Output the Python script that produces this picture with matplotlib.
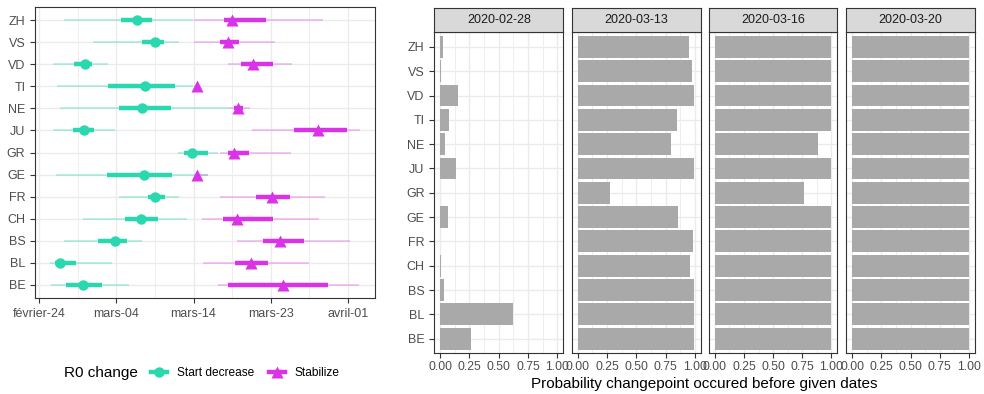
import numpy as np
import matplotlib
matplotlib.use("Agg")
import matplotlib.pyplot as plt
from matplotlib.lines import Line2D

plt.rcParams["font.family"] = ["Liberation Sans", "DejaVu Sans"]

TEAL, MAGENTA = "#29D8AE", "#DA32E6"
BAR = "#A9A9A9"
GRID = "#EBEBEB"
BORDER = "#333333"
TXT = "#4D4D4D"

# cantons, bottom to top
cantons = ["BE", "BL", "BS", "CH", "FR", "GE", "GR", "JU", "NE", "TI", "VD", "VS", "ZH"]

# changepoint dates, in days after 2020-02-24
dec_mid = [5.2, 2.52, 9.04, 12.16, 13.88, 12.56, 18.28, 5.32, 12.36, 12.68, 5.52, 13.84, 11.68]
dec_lo50 = [3.2, 1.88, 7.08, 10.32, 13.0, 8.12, 17.36, 4.04, 9.6, 8.2, 4.12, 12.32, 9.8]
dec_hi50 = [7.48, 4.44, 10.52, 14.2, 15.12, 15.92, 20.2, 6.56, 15.8, 16.24, 6.36, 14.92, 13.56]
dec_lo95 = [1.4, 1.28, 3.0, 5.28, 9.56, 1.96, 16.6, 1.68, 2.48, 2.16, 1.68, 6.48, 3.0]
dec_hi95 = [10.72, 8.72, 12.32, 17.76, 16.72, 20.28, 21.5, 9.08, 22.6, 18.48, 8.2, 16.76, 18.4]

stab_mid = [29.24, 25.4, 28.88, 23.76, 27.96, 18.96, 23.4, 33.48, 23.8, 18.96, 25.68, 22.6, 23.16]
stab_lo50 = [22.6, 23.48, 26.8, 22.08, 26.0, 18.8, 22.68, 30.6, 23.4, 18.8, 24.16, 21.72, 22.1]
stab_hi50 = [34.6, 27.44, 31.72, 28.0, 30.08, 19.1, 25.16, 36.88, 24.4, 19.1, 28.0, 23.92, 27.2]
stab_lo95 = [21.48, 19.64, 23.72, 19.52, 21.68, 18.6, 21.7, 25.56, 22.7, 18.6, 22.68, 18.6, 18.56]
stab_hi95 = [38.36, 32.32, 37.24, 33.6, 34.28, 20.2, 30.16, 38.48, 25.3, 19.3, 30.32, 28.28, 34.0]

date_ticks = ["février-24", "mars-04", "mars-14", "mars-23", "avril-01"]

# probability that the changepoint occurred before each date
facet_dates = ["2020-02-28", "2020-03-13", "2020-03-16", "2020-03-20"]
prob_0228 = [0.262, 0.625, 0.03, 0.008, 0.002, 0.07, 0.0, 0.138, 0.037, 0.073, 0.155, 0.006, 0.028]
prob_0313 = [0.99, 0.99, 0.99, 0.961, 0.986, 0.86, 0.276, 0.99, 0.80, 0.849, 0.992, 0.98, 0.953]
prob_0316 = [1.0, 1.0, 1.0, 1.0, 1.0, 1.0, 0.763, 1.0, 0.884, 1.0, 1.0, 1.0, 1.0]
prob_0320 = [1.0] * 13
probs = [prob_0228, prob_0313, prob_0316, prob_0320]

W, H = 984, 394
fig = plt.figure(figsize=(W / 100, H / 100), dpi=100)


def px_axes(x0, y0, x1, y1):
    return fig.add_axes([x0 / W, 1 - y1 / H, (x1 - x0) / W, (y1 - y0) / H])


def style(ax):
    for s in ax.spines.values():
        s.set_color(BORDER)
        s.set_linewidth(0.8)
    ax.tick_params(colors=BORDER, labelcolor=TXT, labelsize=9, length=3.5, width=0.8)
    ax.set_axisbelow(True)


ypos = np.arange(1, len(cantons) + 1)

# left: changepoint intervals
ax = px_axes(35, 7, 375, 298)
style(ax)
ax.set_xlim(-0.52, 40.28)
ax.set_ylim(0.4, 13.6)
ticks = np.linspace(0, 37, 5)
ax.set_xticks(ticks)
ax.set_xticklabels(date_ticks)
ax.set_xticks((ticks[:-1] + ticks[1:]) / 2, minor=True)
ax.tick_params(axis="x", which="minor", length=0)
ax.set_yticks(ypos)
ax.set_yticklabels(cantons)
ax.grid(True, which="major", color=GRID, lw=1.0)
ax.grid(True, which="minor", axis="x", color=GRID, lw=0.6)

ax.hlines(ypos, dec_lo95, dec_hi95, color=TEAL, lw=1.1, alpha=0.4, zorder=2)
ax.hlines(ypos, stab_lo95, stab_hi95, color=MAGENTA, lw=1.1, alpha=0.35, zorder=2)
ax.hlines(ypos, dec_lo50, dec_hi50, color=TEAL, lw=3.2, zorder=3)
ax.hlines(ypos, stab_lo50, stab_hi50, color=MAGENTA, lw=3.2, zorder=3)
ax.plot(dec_mid, ypos, "o", color=TEAL, ms=7.5, mec="none", zorder=4)
ax.plot(stab_mid, ypos, "^", color=MAGENTA, ms=9, mec="none", zorder=4)

# legend
fig.text(64 / W, 1 - 373 / H, "R0 change", fontsize=11, va="center", ha="left", color="black")
handles = [Line2D([], [], color=TEAL, lw=3.2, marker="o", ms=7.5, mec="none"),
           Line2D([], [], color=MAGENTA, lw=3.2, marker="^", ms=9, mec="none")]
fig.legend(handles, ["Start decrease", "Stabilize"], ncol=2, frameon=False,
           loc="center left", bbox_to_anchor=(140 / W, 1 - 373 / H),
           fontsize=8.6, handlelength=1.4, handletextpad=0.8, columnspacing=1.2)

# right: probability facets
facet_x = [(434.3, 563.3), (571.7, 700.7), (709, 837.3), (846.3, 974.7)]
for i, ((x0, x1), label, p) in enumerate(zip(facet_x, facet_dates, probs)):
    a = px_axes(x0, 32.3, x1, 353.3)
    style(a)
    a.set_xlim(-0.05, 1.05)
    a.set_ylim(0.4, 13.6)
    a.set_xticks([0, 0.25, 0.5, 0.75, 1.0])
    a.set_xticklabels(["0.00", "0.25", "0.50", "0.75", "1.00"])
    a.set_xticks([0.125, 0.375, 0.625, 0.875], minor=True)
    a.tick_params(axis="x", which="minor", length=0)
    a.tick_params(axis="x", which="major", pad=2, labelsize=8.8)
    a.set_yticks(ypos)
    if i == 0:
        a.set_yticklabels(cantons)
    else:
        a.set_yticklabels([])
        a.tick_params(axis="y", length=0)
    a.grid(True, which="major", color=GRID, lw=1.0)
    a.grid(True, which="minor", axis="x", color=GRID, lw=0.6)
    a.barh(ypos, p, height=0.9, color=BAR, zorder=2)

    s = px_axes(x0, 8, x1, 32.3)
    s.set_xticks([])
    s.set_yticks([])
    s.set_facecolor("#D9D9D9")
    for sp in s.spines.values():
        sp.set_color(BORDER)
        sp.set_linewidth(0.8)
    s.text(0.5, 0.5, label, ha="center", va="center", fontsize=9, color="#1A1A1A",
           transform=s.transAxes)

fig.text(704 / W, 1 - 384 / H, "Probability changepoint occured before given dates",
         ha="center", va="center", fontsize=11, color="black")

fig.savefig("out.png", dpi=100, facecolor="white")
